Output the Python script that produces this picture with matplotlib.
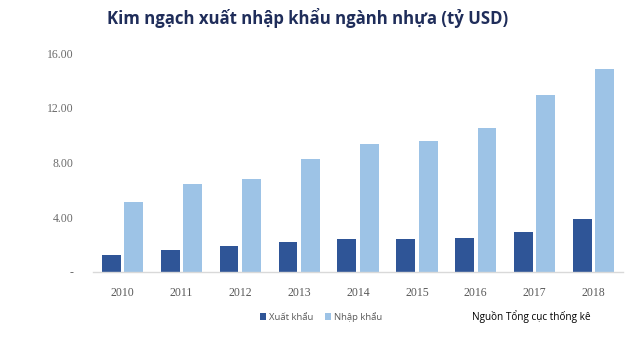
import matplotlib
matplotlib.use("Agg")
import matplotlib.pyplot as plt
import numpy as np

years = ["2010", "2011", "2012", "2013", "2014", "2015", "2016", "2017", "2018"]
xuat_khau = [1.22, 1.58, 1.90, 2.18, 2.43, 2.38, 2.48, 2.92, 3.87]
nhap_khau = [5.09, 6.43, 6.78, 8.25, 9.34, 9.60, 10.54, 12.94, 14.80]
yticks = [0, 4, 8, 12, 16]
ytick_labels = ["-", "4.00", "8.00", "12.00", "16.00"]

c_export = "#2F5597"
c_import = "#9DC3E6"

fig = plt.figure(figsize=(6.4, 3.37), dpi=100)
ax = fig.add_axes([93/640, 1-272/337, 530/640, 219/337])

x = np.arange(len(years))
w = 0.32
b1 = ax.bar(x - 0.19, xuat_khau, width=w, color=c_export, label="Xuất khẩu")
b2 = ax.bar(x + 0.19, nhap_khau, width=w, color=c_import, label="Nhập khẩu")

ax.set_xlim(-0.5, len(years) - 0.5)
ax.set_ylim(0, 16)
ax.set_xticks(x)
ax.set_xticklabels(years, fontfamily="Liberation Serif", fontsize=8.5, color="#595959")
ax.set_yticks(yticks)
ax.set_yticklabels(ytick_labels, fontfamily="Liberation Serif", fontsize=8.5, color="#6b6b6b")
ax.tick_params(axis="both", length=0)
ax.tick_params(axis="y", pad=14)
ax.tick_params(axis="x", pad=11)
for s in ["top", "right", "left"]:
    ax.spines[s].set_visible(False)
ax.spines["bottom"].set_color("#D9D9D9")
ax.spines["bottom"].set_linewidth(1.0)

fig.text(308/640, 1-18/337, "Kim ngạch xuất nhập khẩu ngành nhựa (tỷ USD)",
         ha="center", va="center", fontsize=12.1, fontweight="bold",
         color="#1F2D5A", fontfamily="Open Sans")

leg = fig.legend(handles=[b1, b2], loc="center", bbox_to_anchor=(321/640, 1-317/337),
                 ncol=2, frameon=False, handlelength=0.7, handleheight=0.7,
                 handletextpad=0.3, columnspacing=1.2, prop={"family": "Open Sans", "size": 6.8})
for t in leg.get_texts():
    t.set_color("#595959")

fig.text(531/640, 1-317/337, "Nguồn Tổng cục thống kê", ha="center", va="center",
         fontsize=7.2, color="#000000", fontfamily="Open Sans")

fig.savefig("out.png", dpi=100)
